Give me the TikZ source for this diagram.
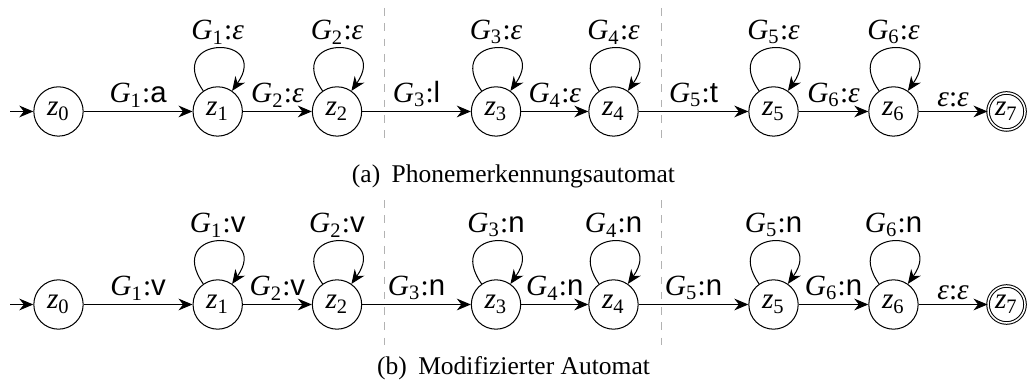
\documentclass[tikz,border=0pt]{standalone}
\usepackage{fontspec}
\setmainfont{Liberation Serif}
\setsansfont{Liberation Sans}
\usepackage{tikz}
\usetikzlibrary{arrows.meta}
\newcommand{\zst}[1]{\textit{z}\textsubscript{#1}}
\newcommand{\gsym}[2]{\textit{G}\textsubscript{#1}:#2}
\newcommand{\eps}{\textit{ε}}

\begin{document}
\begin{tikzpicture}[x=1cm,y=1cm,>={Stealth[length=5.5pt,width=4.6pt]},
  every node/.style={font=\fontsize{11.5}{13}\selectfont},
  state/.style={draw,circle,minimum size=0.68cm,inner sep=0pt},
  final/.style={state,double,minimum size=0.51cm},
  selfloop/.style={loop,out=125,in=55,distance=9.5mm},
  lbl/.style={above,inner sep=1.5pt},
  caption/.style={font=\normalsize},
  sep/.style={gray!60,dashed}]
\useasboundingbox (0,0) rectangle (14.152,-5.333);
% (a) Phonemerkennung
\draw[sep] (5.292,-0.110) -- (5.292,-1.998);
\draw[sep] (9.122,-0.110) -- (9.122,-1.998);
\node[state] (a0) at (0.806,-1.536) {\zst{0}};
\node[state] (a1) at (3.000,-1.536) {\zst{1}};
\node[state] (a2) at (4.644,-1.536) {\zst{2}};
\node[state] (a3) at (6.835,-1.536) {\zst{3}};
\node[state] (a4) at (8.454,-1.536) {\zst{4}};
\node[state] (a5) at (10.659,-1.536) {\zst{5}};
\node[state] (a6) at (12.312,-1.536) {\zst{6}};
\node[final] (a7) at (13.870,-1.536) {\zst{7}};
\coordinate (a-start) at (0.138,-1.536);
\draw[->] (a-start) -- (a0);
\draw[->] (a0) -- node[lbl] {\gsym{1}{\textsf{a}}} (a1);
\draw[->] (a1) -- node[lbl] {\gsym{2}{\eps}} (a2);
\draw[->] (a2) -- node[lbl] {\gsym{3}{\textsf{l}}} (a3);
\draw[->] (a3) -- node[lbl] {\gsym{4}{\eps}} (a4);
\draw[->] (a4) -- node[lbl] {\gsym{5}{\textsf{t}}} (a5);
\draw[->] (a5) -- node[lbl] {\gsym{6}{\eps}} (a6);
\draw[->] (a6) -- node[lbl] {\eps:\eps} (a7);
\path[->] (a1) edge[selfloop] node[lbl] {\gsym{1}{\eps}} (a1);
\path[->] (a2) edge[selfloop] node[lbl] {\gsym{2}{\eps}} (a2);
\path[->] (a3) edge[selfloop] node[lbl] {\gsym{3}{\eps}} (a3);
\path[->] (a4) edge[selfloop] node[lbl] {\gsym{4}{\eps}} (a4);
\path[->] (a5) edge[selfloop] node[lbl] {\gsym{5}{\eps}} (a5);
\path[->] (a6) edge[selfloop] node[lbl] {\gsym{6}{\eps}} (a6);
\node[caption] (cap-a) at (7.076,-2.425) {(a)\hspace{0.45em}Phonemerkennungsautomat};
% (b) modifiziert
\draw[sep] (5.292,-2.756) -- (5.292,-4.754);
\draw[sep] (9.122,-2.756) -- (9.122,-4.754);
\node[state] (b0) at (0.806,-4.196) {\zst{0}};
\node[state] (b1) at (3.000,-4.196) {\zst{1}};
\node[state] (b2) at (4.644,-4.196) {\zst{2}};
\node[state] (b3) at (6.835,-4.196) {\zst{3}};
\node[state] (b4) at (8.454,-4.196) {\zst{4}};
\node[state] (b5) at (10.659,-4.196) {\zst{5}};
\node[state] (b6) at (12.312,-4.196) {\zst{6}};
\node[final] (b7) at (13.870,-4.196) {\zst{7}};
\coordinate (b-start) at (0.138,-4.196);
\draw[->] (b-start) -- (b0);
\draw[->] (b0) -- node[lbl] {\gsym{1}{\textsf{v}}} (b1);
\draw[->] (b1) -- node[lbl] {\gsym{2}{\textsf{v}}} (b2);
\draw[->] (b2) -- node[lbl] {\gsym{3}{\textsf{n}}} (b3);
\draw[->] (b3) -- node[lbl] {\gsym{4}{\textsf{n}}} (b4);
\draw[->] (b4) -- node[lbl] {\gsym{5}{\textsf{n}}} (b5);
\draw[->] (b5) -- node[lbl] {\gsym{6}{\textsf{n}}} (b6);
\draw[->] (b6) -- node[lbl] {\eps:\eps} (b7);
\path[->] (b1) edge[selfloop] node[lbl] {\gsym{1}{\textsf{v}}} (b1);
\path[->] (b2) edge[selfloop] node[lbl] {\gsym{2}{\textsf{v}}} (b2);
\path[->] (b3) edge[selfloop] node[lbl] {\gsym{3}{\textsf{n}}} (b3);
\path[->] (b4) edge[selfloop] node[lbl] {\gsym{4}{\textsf{n}}} (b4);
\path[->] (b5) edge[selfloop] node[lbl] {\gsym{5}{\textsf{n}}} (b5);
\path[->] (b6) edge[selfloop] node[lbl] {\gsym{6}{\textsf{n}}} (b6);
\node[caption] (cap-b) at (7.076,-5.071) {(b)\hspace{0.45em}Modifizierter Automat};
\end{tikzpicture}
\end{document}
